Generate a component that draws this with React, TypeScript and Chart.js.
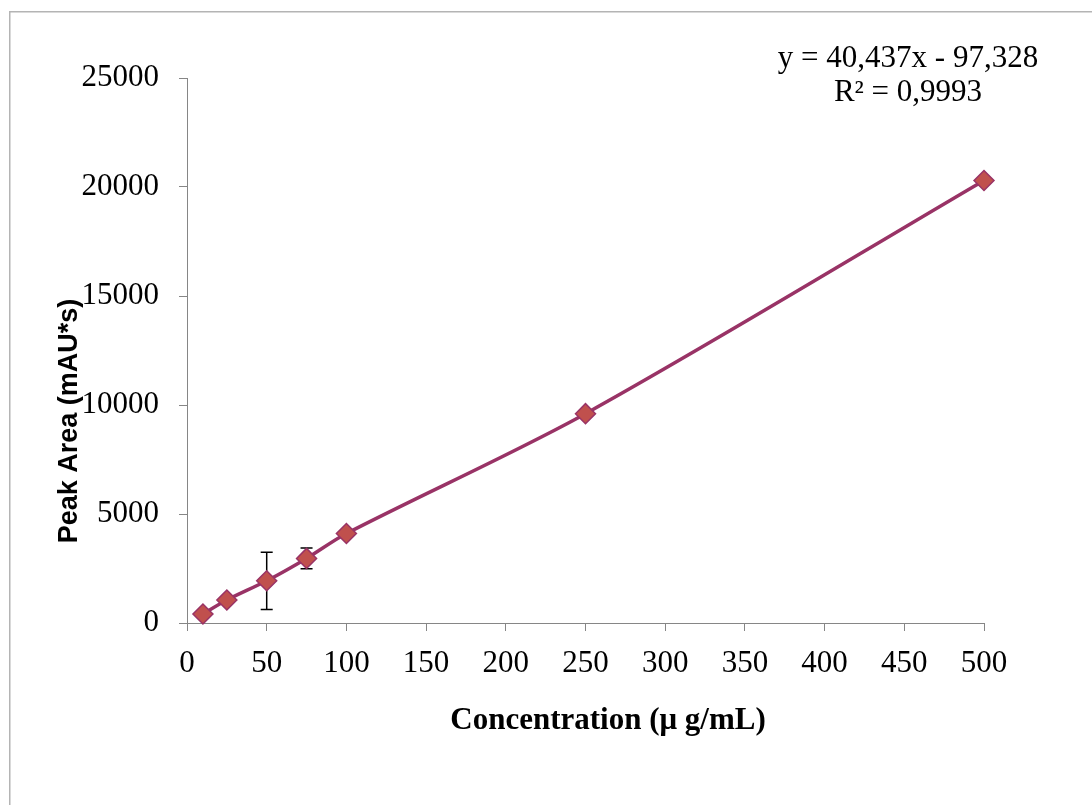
import React, { useEffect, useRef } from "react";
import { Chart, registerables } from "chart.js";

Chart.register(...registerables);

// ---- data ----
const concentrations = [10, 25, 50, 75, 100, 250, 500];
const peakAreas = [412, 1053, 1937, 2963, 4107, 9602, 20299];
const errorValues = [0, 0, 1312, 475, 0, 0, 0];
const equationLines = ["y = 40,437x - 97,328", "R² = 0,9993"];
const xTitle = "Concentration (μ g/mL)";
const yTitle = "Peak Area (mAU*s)";
const xTickStep = 50;
const yTickStep = 5000;

const W = 1092;
const H = 805;
const SERIF = '"Liberation Serif", "Times New Roman", serif';
const SANS = '"Liberation Sans", Arial, sans-serif';
const AXIS_GREY = "#868686";

const framePlugin = {
  id: "frame",
  beforeDraw(chart: any) {
    const ctx = chart.ctx;
    ctx.save();
    ctx.fillStyle = "#ffffff";
    ctx.fillRect(0, 0, W, H);
    ctx.strokeStyle = "#b4b4b4";
    ctx.lineWidth = 1.5;
    ctx.beginPath();
    ctx.moveTo(9.75, H + 5);
    ctx.lineTo(9.75, 11.75);
    ctx.lineTo(W + 5, 11.75);
    ctx.stroke();
    ctx.restore();
  },
};

const errorBarPlugin = {
  id: "errorBars",
  beforeDatasetsDraw(chart: any) {
    const ctx = chart.ctx;
    const xs = chart.scales.x;
    const ys = chart.scales.y;
    ctx.save();
    ctx.strokeStyle = "#000000";
    ctx.lineWidth = 1.5;
    concentrations.forEach((c, i) => {
      const e = errorValues[i];
      if (!e) return;
      const x = xs.getPixelForValue(c);
      const yt = ys.getPixelForValue(peakAreas[i] + e);
      const yb = ys.getPixelForValue(peakAreas[i] - e);
      ctx.beginPath();
      ctx.moveTo(x, yt);
      ctx.lineTo(x, yb);
      ctx.moveTo(x - 6, yt);
      ctx.lineTo(x + 6, yt);
      ctx.moveTo(x - 6, yb);
      ctx.lineTo(x + 6, yb);
      ctx.stroke();
    });
    ctx.restore();
  },
};

const textPlugin = {
  id: "texts",
  afterDraw(chart: any) {
    const ctx = chart.ctx;
    ctx.save();
    ctx.fillStyle = "#000000";
    ctx.textAlign = "center";
    ctx.textBaseline = "alphabetic";
    ctx.font = `31px ${SERIF}`;
    ctx.fillText(equationLines[0], 908, 67);
    ctx.fillText(equationLines[1], 908, 101);

    ctx.font = `bold 31px ${SERIF}`;
    ctx.fillText(xTitle, 608, 729);

    ctx.translate(77, 421);
    ctx.rotate(-Math.PI / 2);
    ctx.font = `bold 27px ${SANS}`;
    ctx.fillText(yTitle, 0, 0);
    ctx.restore();
  },
};

export default function App() {
  const ref = useRef<HTMLCanvasElement | null>(null);

  useEffect(() => {
    if (!ref.current) return;
    const chart = new Chart(ref.current, {
      type: "scatter",
      data: {
        datasets: [
          {
            data: concentrations.map((c, i) => ({ x: c, y: peakAreas[i] })),
            showLine: true,
            tension: 0.3,
            clip: false,
            borderColor: "#993366",
            borderWidth: 3.5,
            pointStyle: "rectRot",
            pointRadius: 10,
            pointHoverRadius: 10,
            pointBackgroundColor: "#C0504D",
            pointBorderColor: "#993366",
            pointBorderWidth: 1.5,
          },
        ],
      },
      options: {
        responsive: false,
        animation: false,
        devicePixelRatio: 1,
        layout: { padding: { left: 0, top: 78, right: 108, bottom: 0 } },
        plugins: {
          legend: { display: false },
          tooltip: { enabled: false },
        },
        scales: {
          x: {
            type: "linear",
            min: 0,
            max: 500,
            ticks: {
              stepSize: xTickStep,
              autoSkip: false,
              maxRotation: 0,
              color: "#000000",
              padding: 14,
              font: { family: SERIF, size: 31 },
              callback: (v: any) => String(v),
            },
            grid: {
              drawOnChartArea: false,
              drawTicks: true,
              tickLength: 8,
              color: AXIS_GREY,
            },
            border: { color: AXIS_GREY, width: 1 },
            afterFit: (s: any) => {
              s.height = H - 623;
            },
          },
          y: {
            type: "linear",
            min: 0,
            max: 25000,
            ticks: {
              stepSize: yTickStep,
              color: "#000000",
              padding: 20,
              font: { family: SERIF, size: 31 },
              callback: (v: any) => String(v),
            },
            grid: {
              drawOnChartArea: false,
              drawTicks: true,
              tickLength: 8,
              color: AXIS_GREY,
            },
            border: { color: AXIS_GREY, width: 1 },
            afterFit: (s: any) => {
              s.width = 187;
            },
          },
        },
      },
      plugins: [framePlugin, errorBarPlugin, textPlugin],
    });
    return () => chart.destroy();
  }, []);

  return (
    <div style={{ position: "absolute", left: 0, top: 0, width: W, height: H, background: "#fff" }}>
      <canvas ref={ref} width={W} height={H} style={{ display: "block", width: W, height: H }} />
    </div>
  );
}
